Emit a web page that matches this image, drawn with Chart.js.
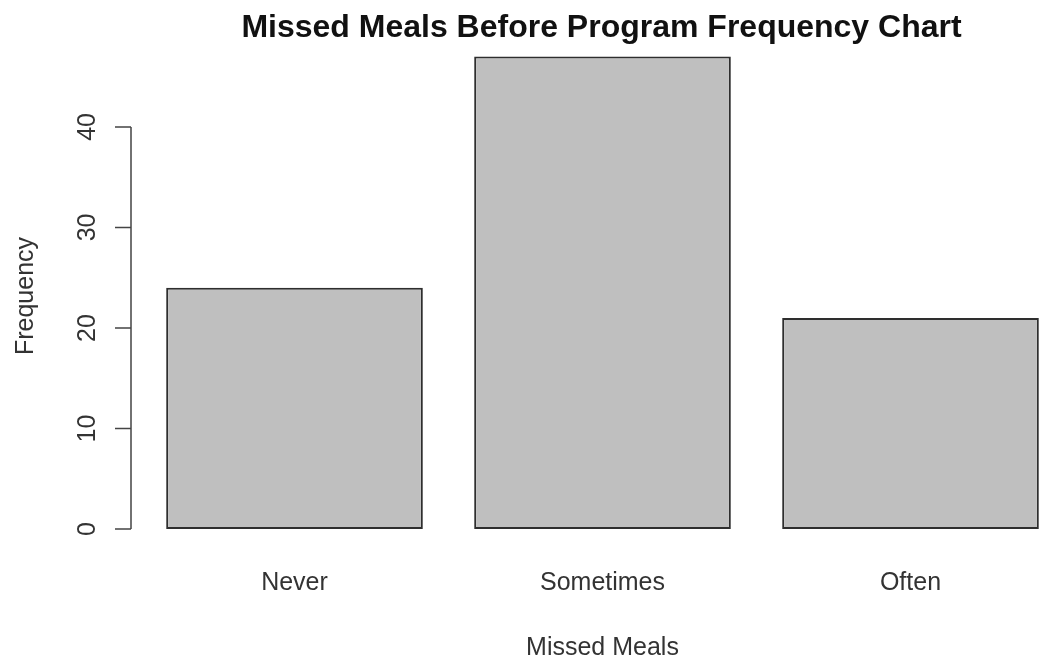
<!DOCTYPE html>
<html>
<head>
<meta charset="utf-8">
<script src="https://cdn.jsdelivr.net/npm/chart.js@4"></script>
<style>
  html, body { margin: 0; padding: 0; background: #fff; overflow: hidden; }
  #wrap { width: 1080px; height: 657px; }
</style>
</head>
<body>
<div id="wrap"><canvas id="chart" width="1080" height="657"></canvas></div>
<script>
// Datos del gráfico
const categories = ['Never', 'Sometimes', 'Often'];
const frequencies = [24, 47, 21];
const yTicks = [0, 10, 20, 30, 40];

const chartTitle = 'Missed Meals Before Program Frequency Chart';
const xTitle = 'Missed Meals';
const yTitle = 'Frequency';

const axisFont = '25px "Liberation Sans", Arial, sans-serif';
const textColor = '#333';

// Eje estilo R: dibujado a mano sobre las escalas de Chart.js
const rAxesPlugin = {
    id: 'rAxes',
    afterDraw(chart) {
        const ctx = chart.ctx;
        const x = chart.scales.x;
        const y = chart.scales.y;
        const area = chart.chartArea;
        const axisX = 131;

        ctx.save();

        // Línea del eje Y y marcas
        ctx.strokeStyle = '#444';
        ctx.lineWidth = 1.5;
        ctx.beginPath();
        ctx.moveTo(axisX, y.getPixelForValue(yTicks[0]));
        ctx.lineTo(axisX, y.getPixelForValue(yTicks[yTicks.length - 1]));
        yTicks.forEach(t => {
            const py = y.getPixelForValue(t);
            ctx.moveTo(axisX, py);
            ctx.lineTo(axisX - 16, py);
        });
        ctx.stroke();

        // Etiquetas del eje Y (rotadas)
        ctx.fillStyle = textColor;
        ctx.font = axisFont;
        ctx.textAlign = 'center';
        ctx.textBaseline = 'alphabetic';
        yTicks.forEach(t => {
            const py = y.getPixelForValue(t);
            ctx.save();
            ctx.translate(95, py);
            ctx.rotate(-Math.PI / 2);
            ctx.fillText(String(t), 0, 0);
            ctx.restore();
        });

        // Título del eje Y
        ctx.save();
        ctx.translate(33, 296);
        ctx.rotate(-Math.PI / 2);
        ctx.fillText(yTitle, 0, 0);
        ctx.restore();

        // Etiquetas de categorías
        categories.forEach((c, i) => {
            ctx.fillText(c, x.getPixelForValue(i), 590);
        });

        // Título del eje X
        const cx = (area.left + area.right) / 2;
        ctx.fillText(xTitle, cx, 655);

        // Título principal
        ctx.fillStyle = '#111';
        ctx.font = 'bold 32px "Liberation Sans", Arial, sans-serif';
        ctx.fillText(chartTitle, cx - 1, 37);

        ctx.restore();
    }
};

new Chart(document.getElementById('chart'), {
    type: 'bar',
    data: {
        labels: categories,
        datasets: [{
            label: yTitle,
            data: frequencies,
            backgroundColor: '#bfbfbf',
            borderColor: '#2e2e2e',
            borderWidth: 2,
            borderSkipped: false,
            barPercentage: 1,
            categoryPercentage: 1 / 1.2
        }]
    },
    options: {
        responsive: false,
        animation: false,
        devicePixelRatio: 1,
        layout: {
            padding: { left: 140.5, right: 15.5, top: 37.7, bottom: 109.1 }
        },
        plugins: {
            legend: { display: false },
            title: { display: false },
            tooltip: { enabled: false }
        },
        scales: {
            x: { display: false, offset: true },
            y: { display: false, min: -1.88, max: 48.88 }
        }
    },
    plugins: [rAxesPlugin]
});
</script>
</body>
</html>
